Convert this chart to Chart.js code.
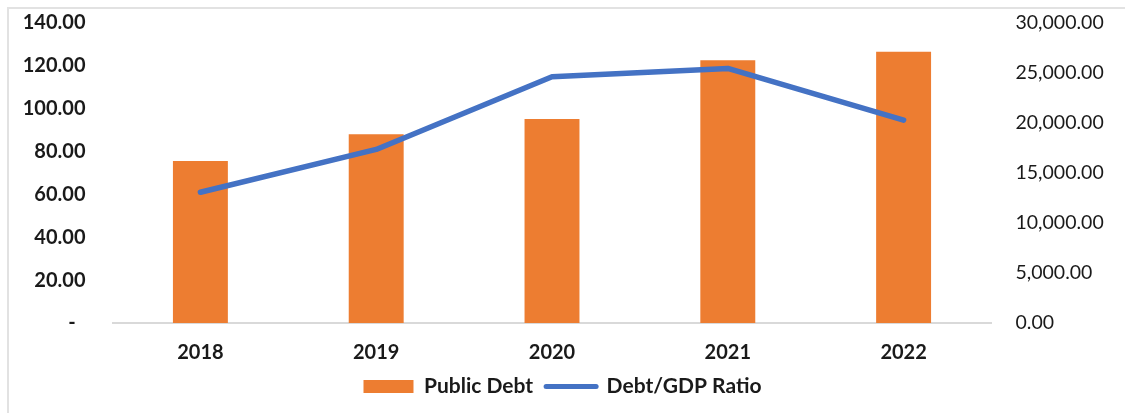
<!DOCTYPE html>
<html>
<head>
<meta charset="utf-8">
<script src="https://cdn.jsdelivr.net/npm/chart.js@4"></script>
<style>
  html, body { margin: 0; padding: 0; background: #fff; }
  #wrap { position: relative; width: 1125px; height: 413px; overflow: hidden; }
  #frame { position: absolute; left: 7px; top: 7px; width: 1200px; height: 500px;
           border-left: 2px solid #e2e2e2; border-top: 2px solid #e2e2e2; }
  canvas { position: absolute; left: 0; top: 0; }
</style>
</head>
<body>
<div id="wrap">
  <div id="frame"></div>
  <canvas id="debtChart" width="1125" height="413"></canvas>
</div>
<script>
// Years on the x axis
const years = ['2018', '2019', '2020', '2021', '2022'];

// Public debt (right axis) and debt/GDP ratio (left axis)
const publicDebt = [16200, 18870, 20400, 26270, 27130];
const debtGdpRatio = [61.0, 81.0, 114.9, 118.8, 94.7];

// Axis ranges and steps
const ratioMax = 140;
const ratioStep = 20;
const debtMax = 30000;
const debtStep = 5000;

const textColor = '#1a1a1a';

// Fixed axis widths so the plot area lines up with both label columns
function fixWidth(width) {
    return function(scale) {
        scale.width = width;
        scale.paddingTop = 0;
        scale.paddingBottom = 0;
    };
}

document.addEventListener('DOMContentLoaded', function() {
    const ctx = document.getElementById('debtChart').getContext('2d');

    new Chart(ctx, {
        type: 'bar',
        data: {
            labels: years,
            datasets: [
                {
                    type: 'bar',
                    label: 'Public Debt',
                    data: publicDebt,
                    yAxisID: 'y1',
                    backgroundColor: '#ED7D31',
                    borderWidth: 0,
                    categoryPercentage: 1,
                    barPercentage: 0.3125,
                    order: 1
                },
                {
                    type: 'line',
                    label: 'Debt/GDP Ratio',
                    data: debtGdpRatio,
                    yAxisID: 'y',
                    borderColor: '#4472C4',
                    backgroundColor: '#4472C4',
                    borderWidth: 5.5,
                    borderCapStyle: 'round',
                    borderJoinStyle: 'round',
                    pointRadius: 0,
                    tension: 0,
                    order: 0
                }
            ]
        },
        options: {
            responsive: false,
            animation: false,
            layout: {
                padding: { top: 23, left: 0, right: 0, bottom: 6 }
            },
            scales: {
                x: {
                    grid: { display: true, drawOnChartArea: false, drawTicks: false },
                    border: { display: true, color: '#d9d9d9', width: 2 },
                    ticks: {
                        padding: 18,
                        color: textColor,
                        font: { family: 'Lato', size: 20, weight: 'bold' }
                    },
                    afterFit: function(scale) { scale.height = 40; }
                },
                y: {
                    position: 'left',
                    min: 0,
                    max: ratioMax,
                    grid: { display: false },
                    border: { display: false },
                    ticks: {
                        stepSize: ratioStep,
                        padding: 19,
                        color: textColor,
                        font: { family: 'Lato', size: 20, weight: 'bold' },
                        callback: function(value) {
                            return value === 0 ? '-  ' : value.toFixed(2);
                        }
                    },
                    afterFit: fixWidth(112.5)
                },
                y1: {
                    position: 'right',
                    min: 0,
                    max: debtMax,
                    grid: { display: false },
                    border: { display: false },
                    ticks: {
                        stepSize: debtStep,
                        padding: 16,
                        color: textColor,
                        font: { family: 'Lato', size: 19.5 },
                        callback: function(value) {
                            return value.toLocaleString('en-US', {
                                minimumFractionDigits: 2,
                                maximumFractionDigits: 2
                            });
                        }
                    },
                    afterFit: fixWidth(133.5)
                }
            },
            plugins: {
                legend: {
                    position: 'bottom',
                    labels: {
                        usePointStyle: true,
                        pointStyleWidth: 50,
                        boxHeight: 13,
                        padding: 13,
                        color: textColor,
                        font: { family: 'Lato', size: 21, weight: 'bold' },
                        generateLabels: function(chart) {
                            return chart.data.datasets.map(function(ds, i) {
                                const isLine = ds.type === 'line';
                                return {
                                    text: ds.label,
                                    fillStyle: isLine ? 'transparent' : ds.backgroundColor,
                                    strokeStyle: isLine ? ds.borderColor : ds.backgroundColor,
                                    lineWidth: isLine ? 5 : 0,
                                    lineCap: 'round',
                                    pointStyle: isLine ? 'line' : 'rect',
                                    fontColor: textColor,
                                    datasetIndex: i,
                                    hidden: false
                                };
                            });
                        }
                    }
                },
                tooltip: { enabled: false }
            }
        }
    });
});
</script>
</body>
</html>
